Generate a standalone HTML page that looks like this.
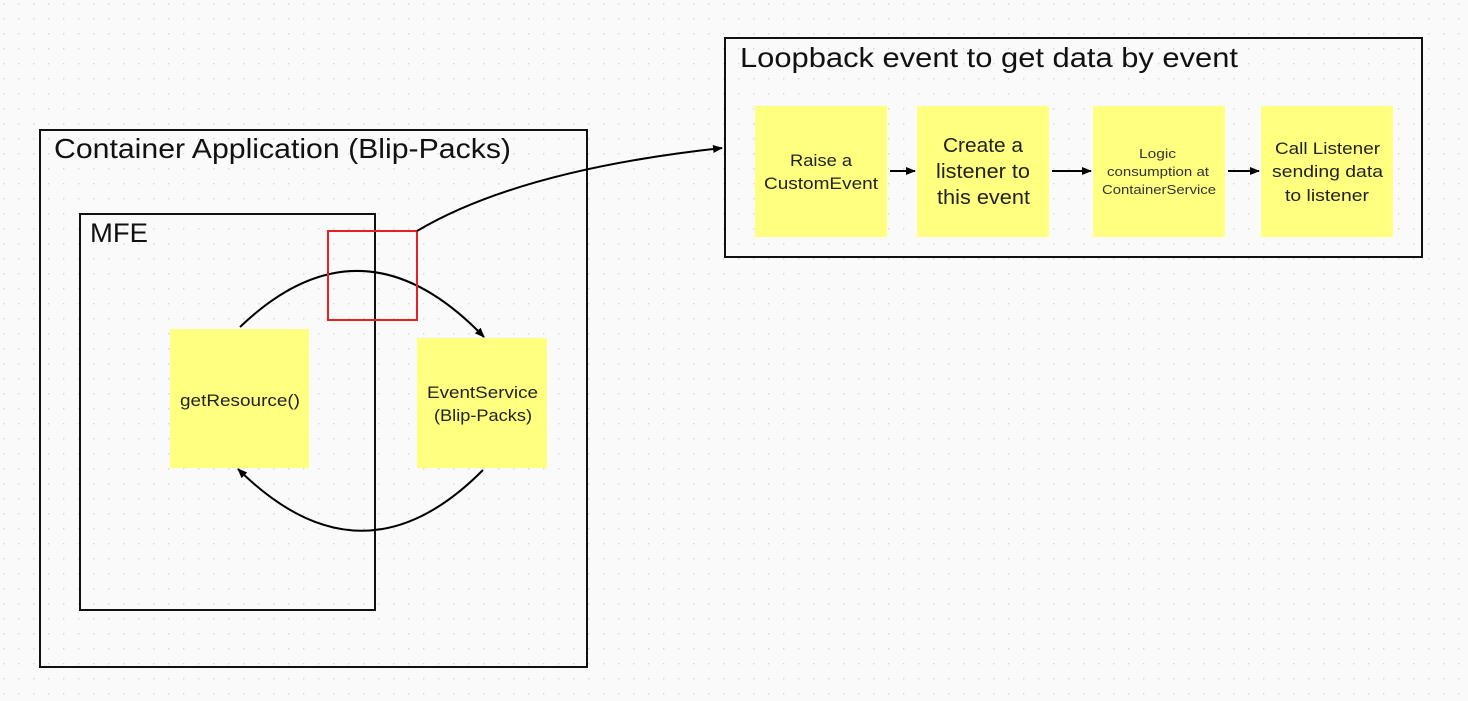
<!DOCTYPE html>
<html><head><meta charset="utf-8"><style>
html,body{margin:0;padding:0;background:#fafafa;}
svg{display:block;font-family:"Liberation Sans",sans-serif;}
</style></head><body>
<svg width="1468" height="701" viewBox="0 0 1468 701" xmlns="http://www.w3.org/2000/svg">
<defs>
<pattern id="dots" width="15" height="15" patternUnits="userSpaceOnUse" x="3" y="3">
<rect x="0" y="0" width="1.4" height="1.4" fill="#d6d6d6"/>
</pattern>
<marker id="ah" markerWidth="10" markerHeight="8" refX="9" refY="4" orient="auto" markerUnits="userSpaceOnUse">
<path d="M0,0 L10,4 L0,8 Z" fill="#000"/>
</marker>
</defs>
<rect width="1468" height="701" fill="#fafafa"/>
<rect width="1468" height="701" fill="url(#dots)"/>

<rect x="40" y="130" width="547" height="537" fill="none" stroke="#111" stroke-width="2"/>
<text x="54" y="158" font-size="28" fill="#111" textLength="457" lengthAdjust="spacingAndGlyphs">Container Application (Blip-Packs)</text>
<rect x="80" y="214" width="295" height="396" fill="none" stroke="#111" stroke-width="2"/>
<text x="90" y="242" font-size="27" fill="#111" textLength="58" lengthAdjust="spacingAndGlyphs">MFE</text>

<rect x="170" y="329" width="139" height="139" fill="#ffff80"/>
<text x="180" y="406" font-size="17" fill="#222" textLength="120" lengthAdjust="spacingAndGlyphs">getResource()</text>
<rect x="417" y="338" width="130" height="130" fill="#ffff80"/>
<text x="427" y="398" font-size="17" fill="#222" textLength="111" lengthAdjust="spacingAndGlyphs">EventService</text>
<text x="434" y="421" font-size="17" fill="#222" textLength="98" lengthAdjust="spacingAndGlyphs">(Blip-Packs)</text>

<path d="M240,327 Q362,210 484,337" fill="none" stroke="#000" stroke-width="2" marker-end="url(#ah)"/>
<path d="M483,470 Q362,592 238,469" fill="none" stroke="#000" stroke-width="2" marker-end="url(#ah)"/>

<rect x="328" y="231" width="89" height="89" fill="none" stroke="#e52222" stroke-width="2"/>
<path d="M417,231 Q520,170 722,148" fill="none" stroke="#000" stroke-width="2" marker-end="url(#ah)"/>

<rect x="725" y="38" width="697" height="219" fill="none" stroke="#111" stroke-width="2"/>
<text x="740" y="67" font-size="28" fill="#111" textLength="498" lengthAdjust="spacingAndGlyphs">Loopback event to get data by event</text>

<rect x="755" y="106" width="132" height="131" fill="#ffff80"/>
<text x="790" y="166" font-size="17" fill="#222" textLength="62" lengthAdjust="spacingAndGlyphs">Raise a</text>
<text x="764" y="189" font-size="17" fill="#222" textLength="114" lengthAdjust="spacingAndGlyphs">CustomEvent</text>
<rect x="917" y="106" width="132" height="131" fill="#ffff80"/>
<text x="943" y="152" font-size="20" fill="#222" textLength="80" lengthAdjust="spacingAndGlyphs">Create a</text>
<text x="936" y="178" font-size="20" fill="#222" textLength="94" lengthAdjust="spacingAndGlyphs">listener to</text>
<text x="937" y="204" font-size="20" fill="#222" textLength="93" lengthAdjust="spacingAndGlyphs">this event</text>
<rect x="1093" y="106" width="132" height="131" fill="#ffff80"/>
<text x="1139" y="158" font-size="13" fill="#333" textLength="37" lengthAdjust="spacingAndGlyphs">Logic</text>
<text x="1107" y="176" font-size="13" fill="#333" textLength="102" lengthAdjust="spacingAndGlyphs">consumption at</text>
<text x="1102" y="194" font-size="13" fill="#333" textLength="114" lengthAdjust="spacingAndGlyphs">ContainerService</text>
<rect x="1261" y="106" width="132" height="131" fill="#ffff80"/>
<text x="1275" y="154" font-size="17" fill="#222" textLength="105" lengthAdjust="spacingAndGlyphs">Call Listener</text>
<text x="1272" y="177" font-size="17" fill="#222" textLength="111" lengthAdjust="spacingAndGlyphs">sending data</text>
<text x="1285" y="201" font-size="17" fill="#222" textLength="84" lengthAdjust="spacingAndGlyphs">to listener</text>

<line x1="890" y1="171" x2="915" y2="171" stroke="#000" stroke-width="2" marker-end="url(#ah)"/>
<line x1="1052" y1="171" x2="1091" y2="171" stroke="#000" stroke-width="2" marker-end="url(#ah)"/>
<line x1="1228" y1="171" x2="1259" y2="171" stroke="#000" stroke-width="2" marker-end="url(#ah)"/>
</svg>
</body></html>
